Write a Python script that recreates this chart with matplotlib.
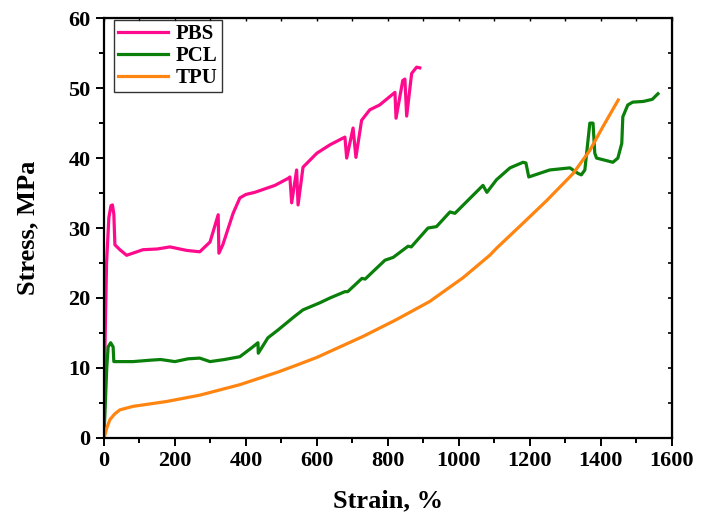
import matplotlib
matplotlib.use("Agg")
import matplotlib.pyplot as plt
from matplotlib.ticker import MultipleLocator

plt.rcParams['font.family'] = ['Liberation Serif', 'DejaVu Serif']
plt.rcParams['font.weight'] = 'bold'

# PBS curve (strain %, stress MPa)
pbs_x = [0, 3, 7.5, 14, 20, 24, 28, 31, 45, 64, 110, 150, 186, 233, 270, 299, 312, 322,
         324, 335, 364, 383, 400, 425, 482, 519, 524, 529, 543, 547, 561, 600, 637,
         679, 684, 702, 710, 726, 749, 777, 820, 823, 842, 848, 853, 867, 881, 890]
pbs_y = [0, 13, 25, 31.5, 33.2, 33.3, 32, 27.6, 26.9, 26.1, 26.9, 27.0, 27.3, 26.8, 26.6, 28.0, 30.2, 31.9,
         26.4, 27.6, 32.1, 34.3, 34.8, 35.1, 36.1, 37.1, 37.3, 33.6, 38.3, 33.3, 38.7, 40.7, 41.9,
         43, 40, 44.3, 40.1, 45.4, 46.9, 47.6, 49.4, 45.7, 51.1, 51.3, 46, 52.1, 53, 52.9]

# PCL curve
pcl_x = [0, 3, 8, 12, 19, 26, 28, 82, 130, 160, 200, 237, 270, 299, 340, 383, 417, 434, 435,
         462, 490, 538, 561, 608, 637, 679, 687, 727, 736, 769, 792, 815, 857, 866, 913,
         937, 975, 989, 1068, 1079, 1106, 1144, 1181, 1189, 1197, 1256, 1313, 1336, 1345, 1355,
         1369, 1378, 1383, 1388, 1434, 1448, 1459, 1462, 1476, 1490, 1520, 1545, 1561]
pcl_y = [0, 3.6, 10, 13.0, 13.6, 13.0, 10.9, 10.9, 11.1, 11.2, 10.9, 11.3, 11.4, 10.9, 11.2, 11.6, 12.9, 13.6, 12.1,
         14.3, 15.4, 17.4, 18.3, 19.3, 20.0, 20.9, 20.9, 22.8, 22.7, 24.3, 25.4, 25.8, 27.4, 27.3, 30.0,
         30.2, 32.3, 32.1, 36.1, 35.1, 36.9, 38.6, 39.4, 39.3, 37.3, 38.3, 38.6, 37.8, 37.6, 38.3,
         45.0, 45.0, 40.7, 40.0, 39.4, 40.0, 42.1, 45.9, 47.6, 48.0, 48.1, 48.4, 49.2]

# TPU curve
tpu_x = [0, 3, 8, 17, 30, 45, 82, 177, 270, 383, 490, 538, 600, 665, 730, 824, 918, 1012,
         1087, 1106, 1181, 1247, 1322, 1369, 1406, 1449]
tpu_y = [0, 0.4, 1.4, 2.6, 3.4, 4.0, 4.5, 5.2, 6.1, 7.6, 9.4, 10.3, 11.5, 13.0, 14.5, 16.9, 19.5, 22.9,
         26.1, 27.1, 30.7, 33.9, 37.8, 41.1, 44.5, 48.3]

fig = plt.figure(figsize=(7.02, 5.20), dpi=100)
ax = fig.add_axes([0.148, 0.158, 0.809, 0.807])

ax.plot(pbs_x, pbs_y, color='#ff0a8c', lw=2.3, label='PBS', solid_joinstyle='round')
ax.plot(pcl_x, pcl_y, color='#0a800a', lw=2.3, label='PCL', solid_joinstyle='round')
ax.plot(tpu_x, tpu_y, color='#ff8410', lw=2.3, label='TPU', solid_joinstyle='round')

ax.set_xlim(0, 1600)
ax.set_ylim(0, 60)
ax.xaxis.set_major_locator(MultipleLocator(200))
ax.xaxis.set_minor_locator(MultipleLocator(100))
ax.yaxis.set_major_locator(MultipleLocator(10))
ax.yaxis.set_minor_locator(MultipleLocator(5))

for s in ax.spines.values():
    s.set_linewidth(1.6)

ax.tick_params(which='both', direction='out', width=1.4, labelsize=16)
ax.tick_params(which='major', length=6)
ax.tick_params(which='minor', length=3.5)

# inward ticks on right/top
ax_r = ax.secondary_yaxis('right')
ax_r.yaxis.set_major_locator(MultipleLocator(5))
ax_r.tick_params(direction='in', length=3, width=1.2, labelright=False)
ax_t = ax.secondary_xaxis('top')
ax_t.xaxis.set_major_locator(MultipleLocator(100))
ax_t.tick_params(direction='in', length=2, width=1.0, labeltop=False)

ax.set_xlabel('Strain, %', fontsize=19, fontweight='bold', labelpad=13)
ax.set_ylabel('Stress, MPa', fontsize=19, fontweight='bold', labelpad=21)

leg = ax.legend(loc='upper left', bbox_to_anchor=(0.018, 0.995), fontsize=15, frameon=True,
                fancybox=False, edgecolor='black', handlelength=2.4, borderpad=0.2,
                labelspacing=0.08, handletextpad=0.35, borderaxespad=0.0)
leg.get_frame().set_linewidth(1.0)
for t in leg.get_texts():
    t.set_fontweight('bold')

fig.savefig('out.png', dpi=100)
